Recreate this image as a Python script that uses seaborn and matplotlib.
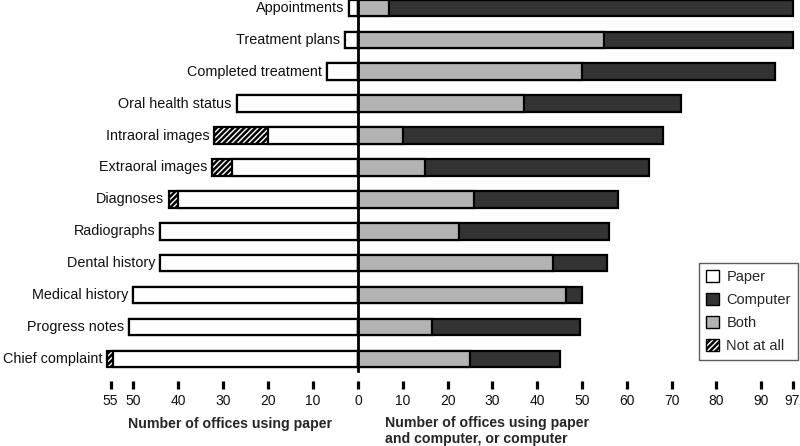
import numpy as np
import pandas as pd
import matplotlib
matplotlib.use("Agg")
import matplotlib.pyplot as plt
from matplotlib.patches import Patch
import seaborn as sns

# Values (number of offices)
categories = ["Appointments", "Treatment plans", "Completed treatment",
              "Oral health status", "Intraoral images", "Extraoral images",
              "Diagnoses", "Radiographs", "Dental history", "Medical history",
              "Progress notes", "Chief complaint"]
paper = [2, 3, 7, 27, 20, 28, 40, 44, 44, 50, 51, 54.5]
not_at_all = [0, 0, 0, 0, 12, 4.5, 2, 0, 0, 0, 0, 1.3]
both = [7, 55, 50, 37, 10, 15, 26, 22.5, 43.5, 46.5, 16.5, 25]
computer = [90, 42, 43, 35, 58, 50, 32, 33.5, 12, 3.5, 33, 20]

left_ticks = [10, 20, 30, 40, 50, 55]
right_ticks = [0, 10, 20, 30, 40, 50, 60, 70, 80, 90, 97]

df = pd.DataFrame({"category": categories, "paper": paper,
                   "not_at_all": not_at_all, "both": both,
                   "computer": computer})
df["left_total"] = df["paper"] + df["not_at_all"]
df["right_total"] = df["both"] + df["computer"]

sns.set_style("white")
plt.rcParams["font.family"] = ["Liberation Sans", "DejaVu Sans"]
plt.rcParams["hatch.linewidth"] = 1.8

fig = plt.figure(figsize=(8, 4.46), dpi=100)
ax_l = fig.add_axes([107 / 800, 75 / 446, 251 / 800, 371 / 446])
ax_r = fig.add_axes([358 / 800, 75 / 446, 439 / 800, 371 / 446])

bar_h = 0.52
edge = dict(edgecolor="black", linewidth=1.6)

# left side: not at all (hatched) under paper (white)
sns.barplot(data=df, x="left_total", y="category", orient="h", color="white",
            hatch="//////", width=bar_h, ax=ax_l, **edge)
sns.barplot(data=df, x="paper", y="category", orient="h", color="white",
            width=bar_h, ax=ax_l, **edge)

# right side: computer (dark) under both (gray)
sns.barplot(data=df, x="right_total", y="category", orient="h",
            color="#333333", width=bar_h, ax=ax_r, **edge)
sns.barplot(data=df, x="both", y="category", orient="h", color="#b3b3b3",
            width=bar_h, ax=ax_r, **edge)

for p in ax_l.patches + ax_r.patches:
    p.set_facecolor(p.get_facecolor()[:3] + (1,))
    p.set_clip_on(False)

ax_l.set_xlim(55.8, 0)
ax_r.set_xlim(0, 98)
ax_l.set_xticks(left_ticks)
ax_l.set_xticklabels([str(t) for t in left_ticks])
ax_r.set_xticks(right_ticks)
ax_r.set_xticklabels([str(t) for t in right_ticks])

for ax in (ax_l, ax_r):
    ax.set_ylim(11.38, -0.25)
    ax.set_ylabel("")
    ax.set_xlabel("")
    ax.set_yticks([])
    for s in ["top", "right", "left"]:
        ax.spines[s].set_visible(False)
    ax.spines["bottom"].set_position(("outward", 7))
    ax.spines["bottom"].set_color("none")
    ax.tick_params(axis="x", bottom=True, direction="out", length=5.8,
                   width=2.3, color="black", pad=4, labelsize=10,
                   labelcolor="#111111")

ax_r.spines["left"].set_visible(True)
ax_r.spines["left"].set_color("black")
ax_r.spines["left"].set_linewidth(2)

# category labels next to the left end of each bar
for i, row in df.iterrows():
    ax_l.annotate(row["category"], xy=(row["left_total"], i),
                  xytext=(-3.5, 0), textcoords="offset points",
                  ha="right", va="center", fontsize=10.4, color="#111111")

fig.text(230 / 800, 1 - 424 / 446, "Number of offices using paper",
         ha="center", va="center", fontsize=10.2, fontweight="bold")
fig.text(385 / 800, 1 - 431 / 446,
         "Number of offices using paper\nand computer, or computer",
         ha="left", va="center", fontsize=10.2, fontweight="bold",
         linespacing=1.1)

handles = [Patch(facecolor="white", edgecolor="black", label="Paper"),
           Patch(facecolor="#333333", edgecolor="black", label="Computer"),
           Patch(facecolor="#b3b3b3", edgecolor="black", label="Both"),
           Patch(facecolor="white", edgecolor="black", hatch="//////",
                 label="Not at all")]
leg = fig.legend(handles=handles, loc="upper right",
                 bbox_to_anchor=(798 / 800, 1 - 263 / 446),
                 fontsize=10.5, frameon=True, fancybox=False,
                 handlelength=0.9, handleheight=0.9, handletextpad=0.5,
                 labelspacing=0.6, borderpad=0.5, borderaxespad=0)
leg.get_frame().set_edgecolor("#333333")
leg.get_frame().set_linewidth(1.0)

fig.savefig("out.png", dpi=100)
